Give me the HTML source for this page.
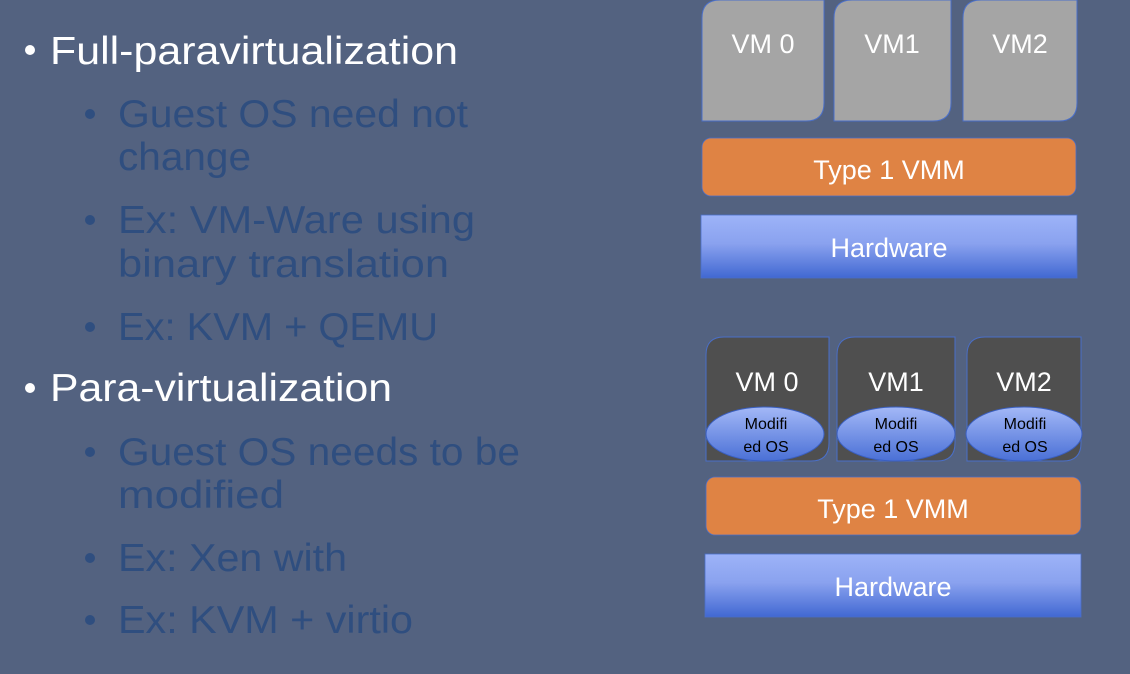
<!DOCTYPE html>
<html><head><meta charset="utf-8"><style>
html,body{margin:0;padding:0;background:#536280;}
svg{display:block}
text{font-family:"Liberation Sans",sans-serif}
</style></head><body>
<svg width="1130" height="674" viewBox="0 0 1130 674" xmlns="http://www.w3.org/2000/svg">
<defs>
<linearGradient id="hw" x1="0" y1="0" x2="0" y2="1">
<stop offset="0" stop-color="#9db3f8"/><stop offset="0.45" stop-color="#8aa2ef"/><stop offset="1" stop-color="#4168d2"/>
</linearGradient>
<linearGradient id="el" x1="0" y1="0" x2="0" y2="1">
<stop offset="0" stop-color="#a3b8f7"/><stop offset="1" stop-color="#4a70d6"/>
</linearGradient>
</defs>
<rect width="1130" height="674" fill="#536280"/>
<g fill="#fff">
<circle cx="30" cy="50" r="5"/><circle cx="30" cy="388" r="5"/>
<text x="50" y="64" font-size="39" textLength="408" lengthAdjust="spacingAndGlyphs">Full-paravirtualization</text>
<text x="50" y="401" font-size="39" textLength="342" lengthAdjust="spacingAndGlyphs">Para-virtualization</text>
</g>
<g fill="#2f4e7f">
<circle cx="90" cy="114" r="5"/><circle cx="90" cy="220" r="5"/><circle cx="90" cy="327" r="5"/>
<circle cx="90" cy="452" r="5"/><circle cx="90" cy="558" r="5"/><circle cx="90" cy="620" r="5"/>
<text x="118" y="127" font-size="39" textLength="350" lengthAdjust="spacingAndGlyphs">Guest OS need not</text>
<text x="118" y="170" font-size="39" textLength="133" lengthAdjust="spacingAndGlyphs">change</text>
<text x="118" y="233" font-size="39" textLength="357" lengthAdjust="spacingAndGlyphs">Ex: VM-Ware using</text>
<text x="118" y="277" font-size="39" textLength="331" lengthAdjust="spacingAndGlyphs">binary translation</text>
<text x="118" y="340" font-size="39" textLength="320" lengthAdjust="spacingAndGlyphs">Ex: KVM + QEMU</text>
<text x="118" y="465" font-size="39" textLength="402" lengthAdjust="spacingAndGlyphs">Guest OS needs to be</text>
<text x="118" y="508" font-size="39" textLength="166" lengthAdjust="spacingAndGlyphs">modified</text>
<text x="118" y="571" font-size="39" textLength="229" lengthAdjust="spacingAndGlyphs">Ex: Xen with</text>
<text x="118" y="633" font-size="39" textLength="295" lengthAdjust="spacingAndGlyphs">Ex: KVM + virtio</text>
</g>
<g fill="#a5a5a5" stroke="#4a6fc9" stroke-width="1">
<path d="M720 0 H824 V103 Q824 121 806 121 H702 V18 Q702 0 720 0Z"/>
<path d="M852 0 H951 V103 Q951 121 933 121 H834 V18 Q834 0 852 0Z"/>
<path d="M981 0 H1077 V103 Q1077 121 1059 121 H963 V18 Q963 0 981 0Z"/>
</g>
<g fill="#fff" font-size="27" text-anchor="middle">
<text x="763" y="53">VM 0</text><text x="892" y="53">VM1</text><text x="1020" y="53">VM2</text>
</g>
<rect x="702" y="138" width="374" height="58" rx="9" fill="#df8344" stroke="#4a6fc9" stroke-width="0.8"/>
<text x="889" y="179" fill="#fff" font-size="27" text-anchor="middle">Type 1 VMM</text>
<rect x="701" y="215" width="376" height="63" fill="url(#hw)" stroke="#4a6fc9" stroke-width="0.8"/>
<text x="889" y="257" fill="#fff" font-size="27" text-anchor="middle">Hardware</text>
<g fill="#4f4f4f" stroke="#4a6fc9" stroke-width="1">
<path d="M724 337 H829 V443 Q829 461 811 461 H706 V355 Q706 337 724 337Z"/>
<path d="M855 337 H955 V443 Q955 461 937 461 H837 V355 Q837 337 855 337Z"/>
<path d="M985 337 H1081 V443 Q1081 461 1063 461 H967 V355 Q967 337 985 337Z"/>
</g>
<g fill="#fff" font-size="27" text-anchor="middle">
<text x="767" y="391">VM 0</text><text x="896" y="391">VM1</text><text x="1024" y="391">VM2</text>
</g>
<g fill="url(#el)" stroke="#3a5fc0" stroke-width="1">
<ellipse cx="765" cy="434" rx="59" ry="27"/>
<ellipse cx="896" cy="434" rx="59" ry="27"/>
<ellipse cx="1024" cy="434" rx="58" ry="27"/>
</g>
<g fill="#000" font-size="16" text-anchor="middle">
<text x="766" y="429">Modifi</text><text x="766" y="452">ed OS</text>
<text x="896" y="429">Modifi</text><text x="896" y="452">ed OS</text>
<text x="1025" y="429">Modifi</text><text x="1025" y="452">ed OS</text>
</g>
<rect x="706" y="477" width="375" height="58" rx="9" fill="#df8344" stroke="#4a6fc9" stroke-width="0.8"/>
<text x="893" y="518" fill="#fff" font-size="27" text-anchor="middle">Type 1 VMM</text>
<rect x="705" y="554" width="376" height="63" fill="url(#hw)" stroke="#4a6fc9" stroke-width="0.8"/>
<text x="893" y="596" fill="#fff" font-size="27" text-anchor="middle">Hardware</text>
</svg>
</body></html>
